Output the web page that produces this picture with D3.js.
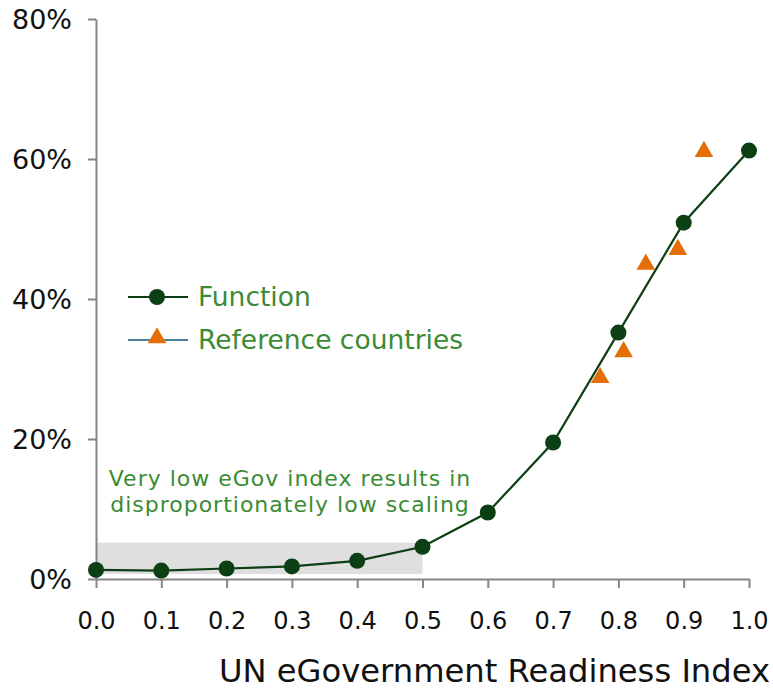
<!DOCTYPE html>
<html>
<head>
<meta charset="utf-8">
<script src="https://cdn.jsdelivr.net/npm/d3@7"></script>
<style>
  html, body { margin: 0; padding: 0; background: #fff; }
  svg { display: block; font-family: "DejaVu Sans", Verdana, sans-serif; }
</style>
</head>
<body>
<svg id="chart" width="773" height="690"></svg>
<script>
// Scaling function sampled along the readiness index
const indexValues = [0.0, 0.1, 0.2, 0.3, 0.4, 0.5, 0.6, 0.7, 0.8, 0.9, 1.0];
const functionValues = [1.3, 1.2, 1.5, 1.8, 2.6, 4.6, 9.5, 19.5, 35.2, 50.9, 61.2];

// Reference countries (index, share)
const refIndex = [0.772, 0.808, 0.842, 0.891, 0.931];
const refValues = [28.9, 32.6, 45.1, 47.2, 61.2];

// Highlighted low-index band
const bandIndex = [0.0, 0.5];
const bandValues = [0.7, 5.2];

const xTicks = [0, 0.1, 0.2, 0.3, 0.4, 0.5, 0.6, 0.7, 0.8, 0.9, 1.0];
const yTicks = [0, 20, 40, 60, 80];

const seriesNames = ["Function", "Reference countries"];
const noteLines = ["Very low eGov index results in", "disproportionately low scaling"];
const xTitle = "UN eGovernment Readiness Index";

const svg = d3.select("#chart");
const x = d3.scaleLinear().domain([0, 1]).range([96, 749]);
const y = d3.scaleLinear().domain([0, 80]).range([579, 19]);

const axisColor = "#868686";
const lineColor = "#0d3f14";
const orange = "#e36f06";
const textGreen = "#3b8b35";

// band
svg.append("rect")
  .attr("x", x(bandIndex[0]))
  .attr("y", y(bandValues[1]))
  .attr("width", x(bandIndex[1]) - x(bandIndex[0]))
  .attr("height", y(bandValues[0]) - y(bandValues[1]))
  .attr("fill", "#dfdfdf");

// axes
const xAxis = svg.append("g")
  .attr("transform", `translate(0,${y(0)})`)
  .call(d3.axisBottom(x).tickValues(xTicks).tickFormat(d3.format(".1f")).tickSize(9).tickSizeOuter(0).tickPadding(24));
const yAxis = svg.append("g")
  .attr("transform", `translate(${x(0)},0)`)
  .call(d3.axisLeft(y).tickValues(yTicks).tickFormat(d => d + "%").tickSize(8).tickSizeOuter(0).tickPadding(16));

[xAxis, yAxis].forEach(g => {
  g.selectAll(".domain").attr("stroke", axisColor).attr("stroke-width", 2);
  g.selectAll(".tick line").attr("stroke", axisColor).attr("stroke-width", 2);
  g.selectAll("text").attr("fill", "#111").attr("font-family", "DejaVu Sans, Verdana, sans-serif");
});
xAxis.selectAll("text").attr("font-size", 24);
yAxis.selectAll("text").attr("font-size", 27).attr("dy", "0.36em");

// x axis title
svg.append("text")
  .attr("x", 770).attr("y", 682)
  .attr("text-anchor", "end")
  .attr("font-size", 32.2)
  .attr("fill", "#111")
  .text(xTitle);

// annotation
const note = svg.append("text")
  .attr("text-anchor", "middle")
  .attr("font-size", 22)
  .attr("letter-spacing", 1)
  .attr("fill", textGreen);
noteLines.forEach((t, i) => {
  note.append("tspan").attr("x", 290).attr("y", 486 + i * 26).text(t);
});

// function line
const pts = indexValues.map((v, i) => [v, functionValues[i]]);
svg.append("path")
  .datum(pts)
  .attr("fill", "none")
  .attr("stroke", lineColor)
  .attr("stroke-width", 2.2)
  .attr("d", d3.line().x(d => x(d[0])).y(d => y(d[1])));

svg.append("g").selectAll("circle")
  .data(pts)
  .join("circle")
  .attr("cx", d => x(d[0]))
  .attr("cy", d => y(d[1]))
  .attr("r", 8)
  .attr("fill", lineColor);

// reference triangles
const tri = d3.symbol().type(d3.symbolTriangle).size(150);
const refPts = refIndex.map((v, i) => [v, refValues[i]]);
svg.append("g").selectAll("path")
  .data(refPts)
  .join("path")
  .attr("transform", d => `translate(${x(d[0])},${y(d[1]) + 1})`)
  .attr("d", tri)
  .attr("fill", orange);

// legend
const legend = svg.append("g");
const legendRows = [
  { name: seriesNames[0], y: 297, stroke: lineColor, kind: "circle" },
  { name: seriesNames[1], y: 340, stroke: "#4f7f9c", kind: "triangle" }
];
legendRows.forEach(r => {
  legend.append("line")
    .attr("x1", 128).attr("x2", 188)
    .attr("y1", r.y).attr("y2", r.y)
    .attr("stroke", r.stroke).attr("stroke-width", 2.2);
  if (r.kind === "circle") {
    legend.append("circle").attr("cx", 157).attr("cy", r.y).attr("r", 8).attr("fill", lineColor);
  } else {
    legend.append("path").attr("transform", `translate(157,${r.y - 2})`).attr("d", tri).attr("fill", orange);
  }
  legend.append("text")
    .attr("x", 198).attr("y", r.y + 9)
    .attr("font-size", 26.5)
    .attr("fill", textGreen)
    .text(r.name);
});
</script>
</body>
</html>
